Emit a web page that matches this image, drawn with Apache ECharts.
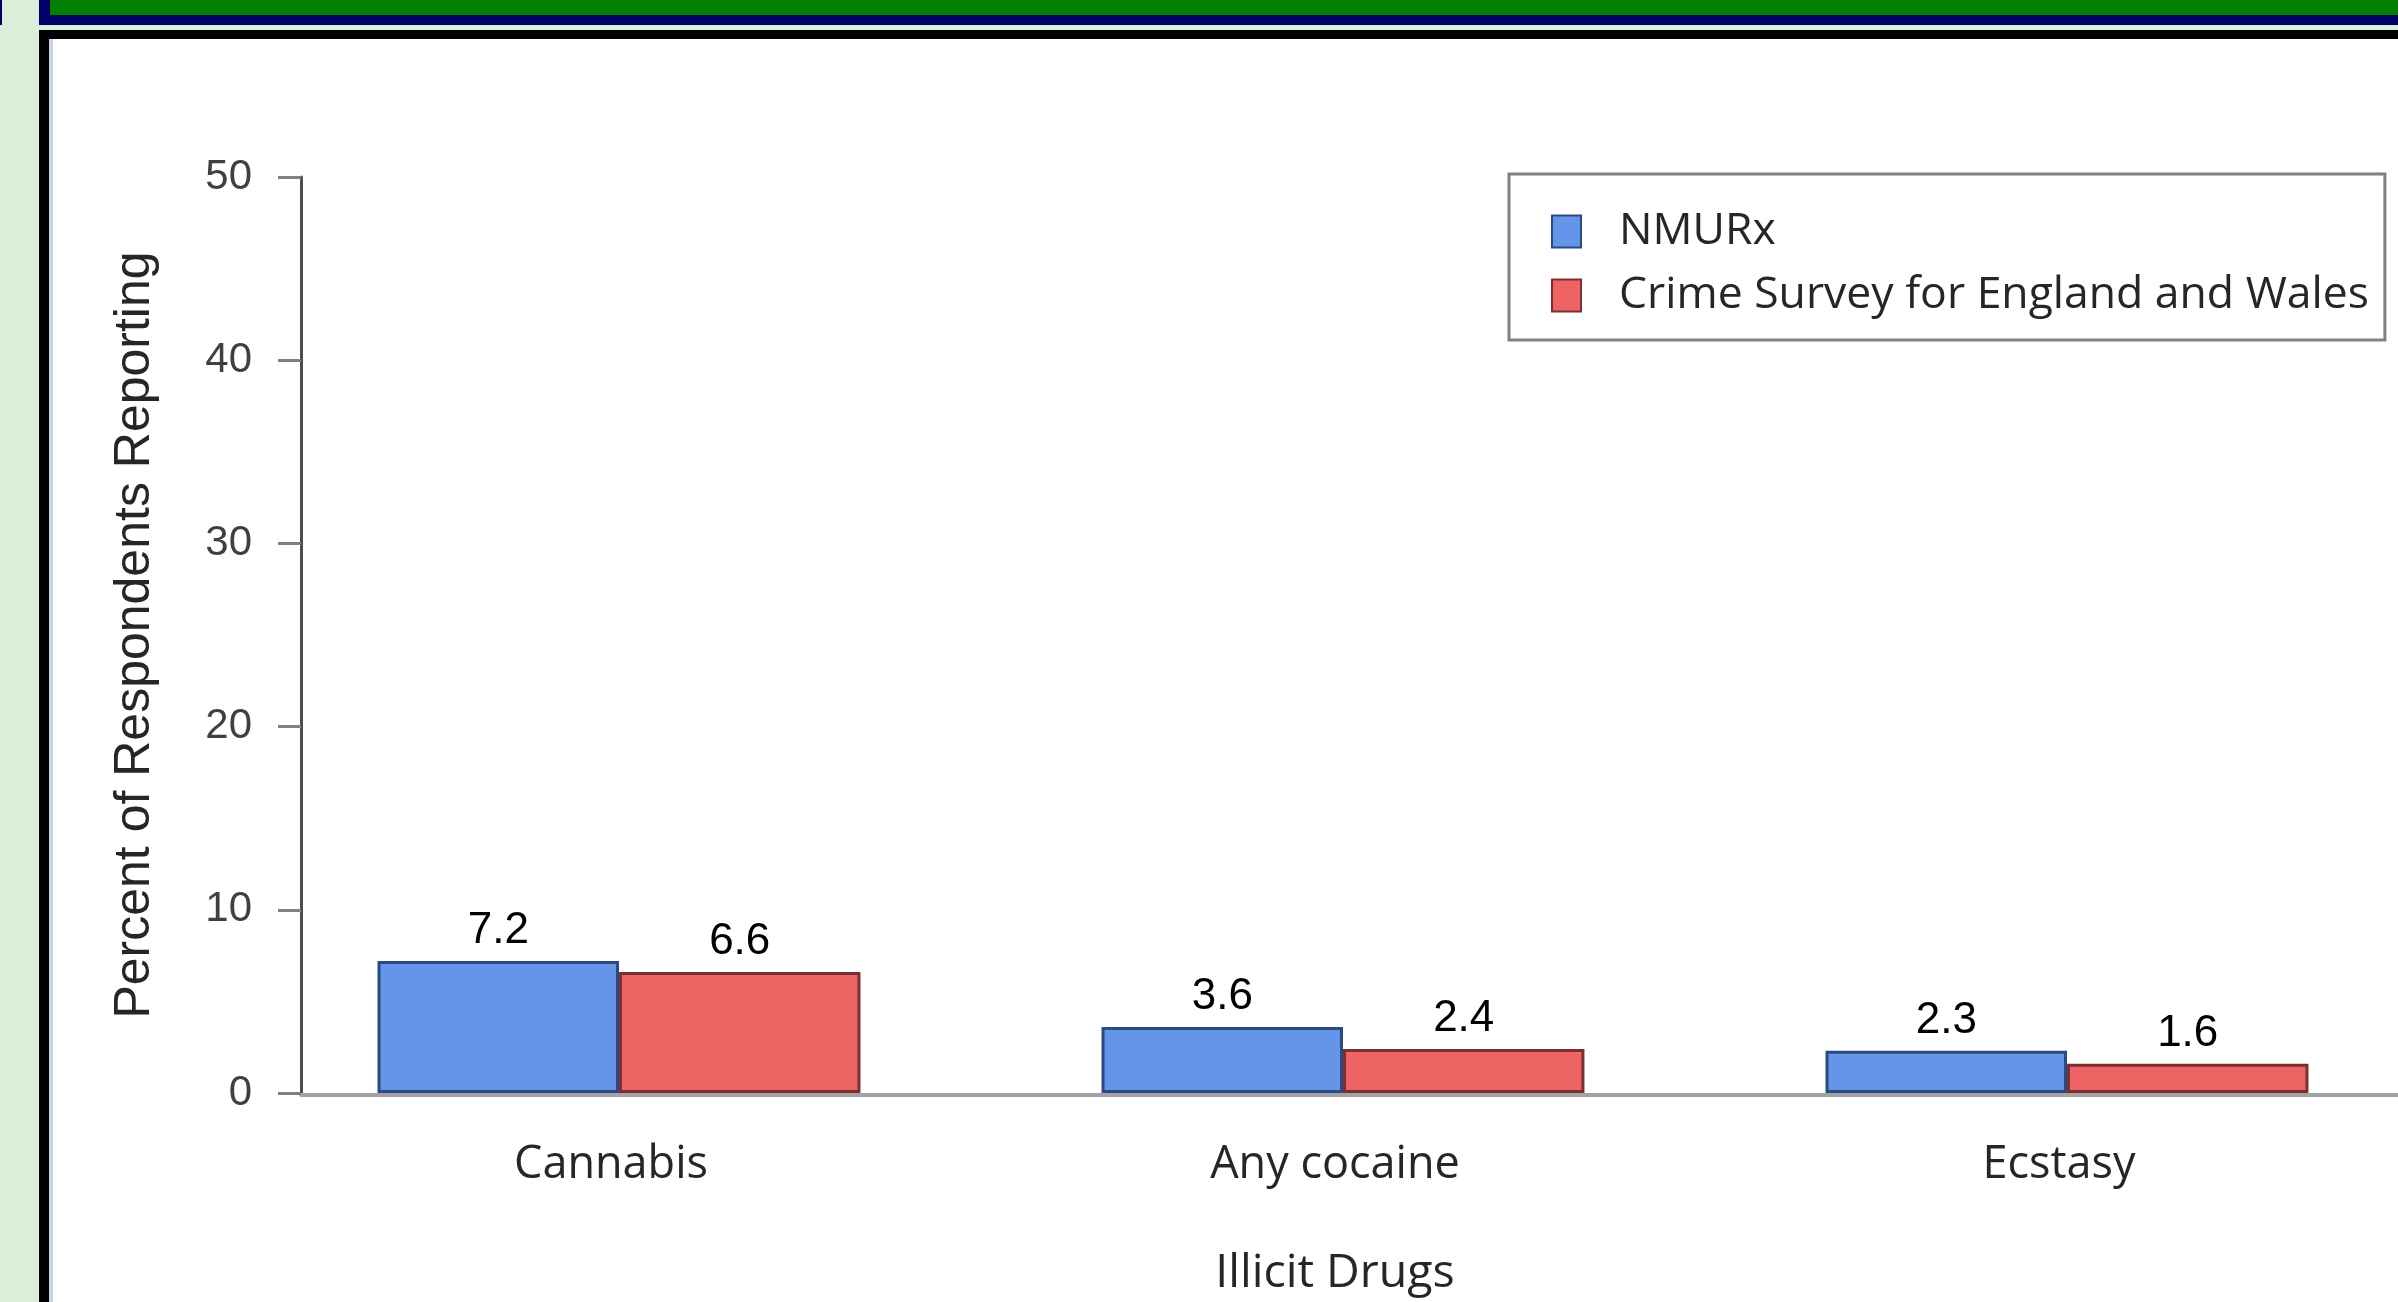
<!DOCTYPE html>
<html>
<head>
<meta charset="utf-8">
<script src="https://cdn.jsdelivr.net/npm/echarts@6/dist/echarts.min.js"></script>
<style>
  html, body { margin: 0; padding: 0; }
  body { width: 2398px; height: 1302px; overflow: hidden; background: #d9efd9; position: relative; }
  .abs { position: absolute; }
  #edge { left: 0; top: 0; width: 2px; height: 25px; background: #000066; }
  #band { left: 39px; top: 0; width: 2359px; height: 25px; background: #000066; }
  #bandFill { left: 50px; top: 0; width: 2348px; height: 15px; background: #008000; }
  #frame { left: 39px; top: 30px; width: 2359px; height: 1272px; background: #000; }
  #panel { left: 49px; top: 39px; width: 2349px; height: 1263px; background: #fff; box-sizing: border-box; border-left: 4px solid #c8d4e8; }
  /* the plot runs past the right edge of the page, so the chart box is wider than the window */
  #chart { left: 0; top: 0; width: 2450px; height: 1302px; }
</style>
</head>
<body>
<div id="edge" class="abs"></div>
<div id="band" class="abs"></div>
<div id="bandFill" class="abs"></div>
<div id="frame" class="abs"></div>
<div id="panel" class="abs"></div>
<div id="chart" class="abs"></div>
<script>
// Illicit drug use: NMURx vs Crime Survey for England and Wales
const categories = ['Cannabis', 'Any cocaine', 'Ecstasy'];
const seriesNames = ['NMURx', 'Crime Survey for England and Wales'];
const nmurxValues = [7.2, 3.6, 2.3];
const csewValues = [6.6, 2.4, 1.6];
const yMin = 0;
const yMax = 50;
const yStep = 10;

const labelFont = '"Liberation Sans", Arial, sans-serif';
const textFont = '"Open Sans", "Noto Sans", sans-serif';

const chart = echarts.init(document.getElementById('chart'), null, { renderer: 'canvas' });

const barLabel = {
  show: true,
  position: 'top',
  distance: 8,
  fontFamily: labelFont,
  fontSize: 44,
  color: '#000'
};

chart.setOption({
  backgroundColor: 'transparent',
  animation: false,
  grid: [
    { left: 257, top: 177, width: 2172, bottom: 207 },
    { left: 301, top: 177, right: 0, bottom: 207 }
  ],
  legend: {
    orient: 'vertical',
    left: 1509,
    top: 174,
    padding: [35, 16, 22, 42],
    itemWidth: 29,
    itemHeight: 32,
    itemGap: 19,
    icon: 'rect',
    borderColor: '#808080',
    borderWidth: 3,
    backgroundColor: '#fff',
    textStyle: {
      fontFamily: textFont,
      fontSize: 44.5,
      lineHeight: 40,
      color: '#262626',
      padding: [0, 0, 0, 33]
    },
    data: seriesNames
  },
  xAxis: [
    {
      type: 'category',
      gridIndex: 0,
      data: categories,
      axisLine: { show: false },
      axisTick: { show: false },
      axisLabel: {
        fontFamily: textFont,
        fontSize: 45,
        color: '#262626',
        margin: 50,
        padding: [0, 16, 0, 0]
      },
      name: 'Illicit Drugs',
      nameLocation: 'middle',
      nameGap: 157,
      nameTextStyle: {
        fontFamily: textFont,
        fontSize: 46.5,
        color: '#262626',
        padding: [0, 16, 0, 0]
      }
    },
    {
      type: 'category',
      gridIndex: 1,
      data: [''],
      axisLine: { show: true, lineStyle: { color: '#a3a3a3', width: 4 } },
      axisTick: { show: false },
      axisLabel: { show: false }
    }
  ],
  yAxis: [
    {
      type: 'value',
      gridIndex: 0,
      min: yMin,
      max: yMax,
      interval: yStep,
      offset: -44,
      axisLine: { show: true, lineStyle: { color: '#4d4d4d', width: 3 } },
      axisTick: { show: true, length: 23, lineStyle: { color: '#808080', width: 3 } },
      axisLabel: {
        fontFamily: labelFont,
        fontSize: 42,
        color: '#404040',
        margin: 49
      },
      splitLine: { show: false },
      name: 'Percent of Respondents Reporting',
      nameLocation: 'middle',
      nameGap: 141,
      nameTextStyle: {
        fontFamily: labelFont,
        fontSize: 50,
        color: '#262626'
      }
    },
    {
      type: 'value',
      gridIndex: 1,
      min: yMin,
      max: yMax,
      show: false
    }
  ],
  series: [
    {
      name: seriesNames[0],
      type: 'bar',
      xAxisIndex: 0,
      yAxisIndex: 0,
      data: nmurxValues,
      barGap: '0%',
      barCategoryGap: '33.3%',
      itemStyle: { color: '#6495e8', borderColor: '#2b4a80', borderWidth: 3 },
      label: barLabel
    },
    {
      name: seriesNames[1],
      type: 'bar',
      xAxisIndex: 0,
      yAxisIndex: 0,
      data: csewValues,
      barGap: '0%',
      barCategoryGap: '33.3%',
      itemStyle: { color: '#ee6363', borderColor: '#7a3030', borderWidth: 3 },
      label: barLabel
    }
  ]
});
</script>
</body>
</html>
